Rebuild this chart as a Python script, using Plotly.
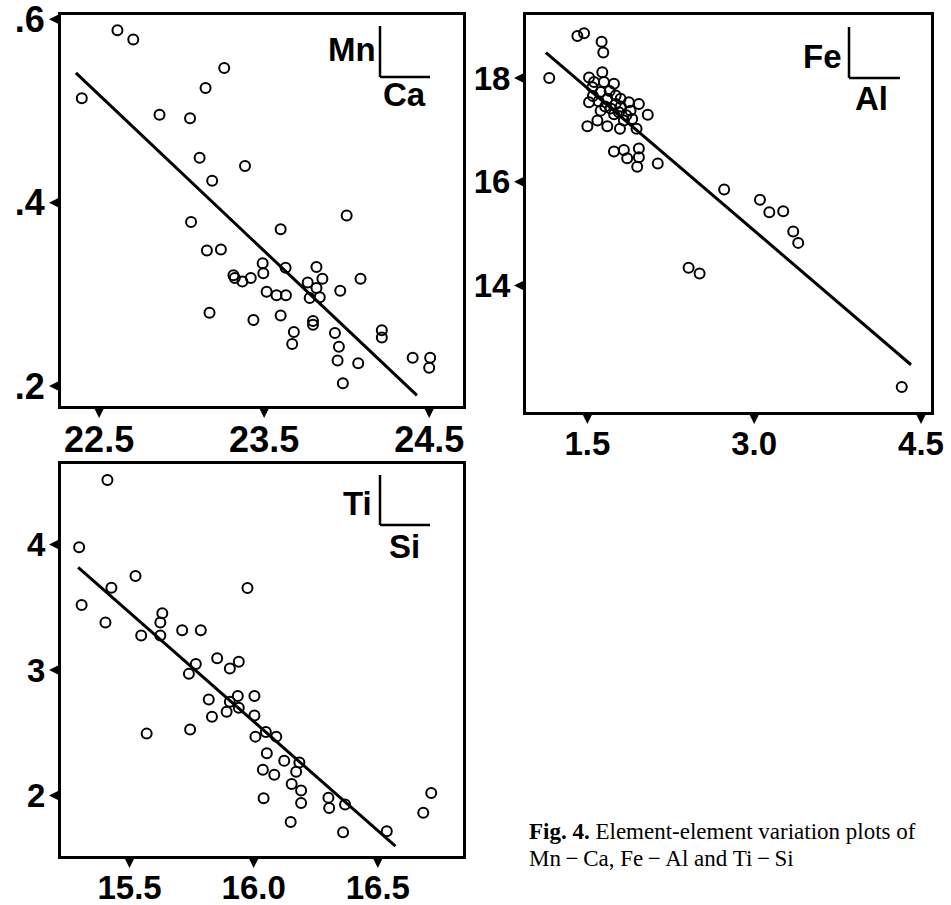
import plotly.graph_objects as go

W, H = 951, 905

# ---------------- data ----------------
# Panel 1: Mn (y) vs Ca (x)
ca_vals = [22.395, 22.611, 22.707, 23.258, 23.145, 22.866, 23.051, 23.109, 23.384, 23.185,
           24.000, 23.057, 23.600, 23.153, 23.238, 23.491, 23.495, 23.630, 23.314, 23.322,
           23.368, 23.419, 23.817, 23.853, 23.764, 23.817, 23.961, 24.084, 23.515, 23.575,
           23.632, 23.776, 23.837, 23.169, 23.435, 23.600, 23.796, 23.796, 23.680, 23.670,
           23.929, 23.953, 23.945, 24.070, 23.977, 24.213, 24.213, 24.400, 24.506, 24.500]
mn_vals = [0.514, 0.588, 0.578, 0.547, 0.525, 0.496, 0.492, 0.449, 0.440, 0.424,
           0.386, 0.379, 0.371, 0.348, 0.349, 0.334, 0.323, 0.329, 0.321, 0.318,
           0.314, 0.318, 0.330, 0.317, 0.313, 0.307, 0.304, 0.317, 0.303, 0.299,
           0.299, 0.296, 0.297, 0.280, 0.272, 0.277, 0.271, 0.267, 0.259, 0.246,
           0.258, 0.243, 0.228, 0.225, 0.203, 0.261, 0.253, 0.231, 0.231, 0.220]
mn_fit_ca = [22.359, 24.426]
mn_fit_mn = [0.5415, 0.1899]

# Panel 2: Fe (y) vs Al (x)
al_vals = [1.157, 1.410, 1.470, 1.628, 1.643, 2.133, 2.730, 3.052, 3.136, 3.261,
           3.351, 3.396, 2.410, 2.509, 4.327,
           1.634, 1.515, 1.560, 1.739, 1.515, 1.619, 1.679, 1.799, 1.873, 1.963,
           1.619, 1.709, 1.784, 1.888, 2.043, 1.500, 1.590, 1.679, 1.793, 1.903,
           1.942, 1.754, 1.828, 1.739, 1.828, 1.858, 1.963, 1.963, 1.948, 1.754,
           1.545, 1.649, 1.700, 1.800, 1.660, 1.740, 1.850, 1.550, 1.600]
fe_vals = [18.00, 18.81, 18.86, 18.70, 18.49, 16.35, 15.85, 15.65, 15.41, 15.43,
           15.04, 14.82, 14.34, 14.23, 12.04,
           18.11, 18.01, 17.92, 17.89, 17.53, 17.73, 17.60, 17.60, 17.53, 17.50,
           17.37, 17.41, 17.34, 17.37, 17.29, 17.07, 17.18, 17.07, 17.02, 17.21,
           17.02, 17.50, 17.18, 16.58, 16.61, 16.45, 16.64, 16.47, 16.29, 17.66,
           17.82, 17.92, 17.75, 17.45, 17.45, 17.30, 17.28, 17.65, 17.55]
fe_fit_al = [1.127, 4.410]
fe_fit_fe = [18.49, 12.47]

# Panel 3: Ti (y) vs Si (x)
si_vals = [15.411, 15.297, 15.307, 15.427, 15.403, 15.524, 15.547, 15.632, 15.624, 15.624,
           15.712, 15.787, 15.975, 15.767, 15.739, 15.853, 15.940, 15.904, 15.819, 15.832,
           15.904, 15.936, 16.003, 15.891, 15.940, 16.003, 15.744, 15.569, 16.049, 16.007,
           16.091, 16.053, 16.123, 16.184, 16.171, 16.037, 16.083, 16.153, 16.191, 16.191,
           16.040, 16.149, 16.301, 16.304, 16.368, 16.360, 16.536, 16.683, 16.715]
ti_vals = [4.515, 3.979, 3.519, 3.657, 3.379, 3.749, 3.276, 3.453, 3.379, 3.276,
           3.318, 3.318, 3.654, 3.049, 2.970, 3.094, 3.067, 3.012, 2.766, 2.629,
           2.748, 2.793, 2.793, 2.668, 2.700, 2.639, 2.526, 2.494, 2.507, 2.470,
           2.470, 2.338, 2.277, 2.264, 2.190, 2.206, 2.166, 2.092, 2.040, 1.942,
           1.979, 1.789, 1.984, 1.902, 1.929, 1.709, 1.717, 1.863, 2.021]
ti_fit_si = [15.293, 16.571]
ti_fit_ti = [3.818, 1.598]

# tick values / labels
p1_xticks = [22.5, 23.5, 24.5]
p1_xlabels = ["22.5", "23.5", "24.5"]
p1_yticks = [0.2, 0.4, 0.6]
p1_ylabels = [".2", ".4", ".6"]
p2_xticks = [1.5, 3.0, 4.5]
p2_xlabels = ["1.5", "3.0", "4.5"]
p2_yticks = [14, 16, 18]
p2_ylabels = ["14", "16", "18"]
p3_xticks = [15.5, 16.0, 16.5]
p3_xlabels = ["15.5", "16.0", "16.5"]
p3_yticks = [2, 3, 4]
p3_ylabels = ["2", "3", "4"]

# ---------------- layout geometry ----------------
def px(x):
    return x / W

def py(y):
    return 1 - y / H

panels = [
    dict(xa="x", ya="y", box=(61, 463, 15, 406), xr=[22.269, 24.705], yr=[0.1783, 0.6047],
         xs=ca_vals, ys=mn_vals, fx=mn_fit_ca, fy=mn_fit_mn,
         xt=p1_xticks, xl=p1_xlabels, yt=p1_yticks, yl=p1_ylabels, fs=36),
    dict(xa="x2", ya="y2", box=(526, 931, 15, 412), xr=[0.948, 4.590], yr=[11.559, 19.214],
         xs=al_vals, ys=fe_vals, fx=fe_fit_al, fy=fe_fit_fe,
         xt=p2_xticks, xl=p2_xlabels, yt=p2_yticks, yl=p2_ylabels, fs=33),
    dict(xa="x3", ya="y3", box=(61, 463, 464, 856), xr=[15.224, 16.843], yr=[1.519, 4.642],
         xs=si_vals, ys=ti_vals, fx=ti_fit_si, fy=ti_fit_ti,
         xt=p3_xticks, xl=p3_xlabels, yt=p3_yticks, yl=p3_ylabels, fs=33),
]

fig = go.Figure()
layout = dict(
    width=W, height=H, margin=dict(l=0, r=0, t=0, b=0),
    paper_bgcolor="white", plot_bgcolor="white", showlegend=False,
)
shapes = []
annotations = []

for i, p in enumerate(panels):
    l, r, t, b = p["box"]
    sfx = "" if i == 0 else str(i + 1)
    tickfont = dict(family="Liberation Sans", size=p["fs"], color="black", weight="bold")
    common = dict(showline=True, mirror=True, linewidth=3, linecolor="black",
                  showgrid=False, zeroline=False, ticks="", tickmode="array",
                  tickfont=tickfont, fixedrange=True, ticklabeloverflow="allow",
                  automargin=False)
    layout["xaxis" + sfx] = dict(common, domain=[px(l), px(r)], range=p["xr"],
                                 tickvals=p["xt"], ticktext=p["xl"],
                                 anchor=p["ya"], ticklabelstandoff=0)
    layout["yaxis" + sfx] = dict(common, domain=[py(b), py(t)], range=p["yr"],
                                 tickvals=p["yt"], ticktext=p["yl"],
                                 anchor=p["xa"], ticklabelstandoff=6)

    fig.add_trace(go.Scatter(x=p["xs"], y=p["ys"], mode="markers", xaxis=p["xa"], yaxis=p["ya"],
                             marker=dict(symbol="circle-open", size=10, color="black",
                                         line=dict(width=2, color="black")),
                             hoverinfo="skip"))
    fig.add_trace(go.Scatter(x=p["fx"], y=p["fy"], mode="lines", xaxis=p["xa"], yaxis=p["ya"],
                             line=dict(color="black", width=3), hoverinfo="skip"))

    # triangular tick marks outside the frame
    for v in p["yt"]:
        shapes.append(dict(type="path", xref="paper", yref=p["ya"],
                           xsizemode="pixel", ysizemode="pixel",
                           xanchor=px(l), yanchor=v,
                           path="M -2 -5 L -2 5 L -12 0 Z",
                           fillcolor="black", line=dict(width=0)))
    for v in p["xt"]:
        shapes.append(dict(type="path", xref=p["xa"], yref="paper",
                           xsizemode="pixel", ysizemode="pixel",
                           xanchor=v, yanchor=py(b),
                           path="M -5 -2 L 5 -2 L 0 -12 Z",
                           fillcolor="black", line=dict(width=0)))

# element-pair labels (e.g. Mn over Ca with an L-shaped divider)
labels = [
    ("Mn", "Ca", 378, 50, 380, 26, 77, 430, 404, 95),
    ("Fe", "Al", 844, 57, 849, 27, 78, 900, 871, 98),
    ("Ti", "Si", 374, 503, 380, 475, 525, 430, 404, 546),
]
lab_font = dict(family="Liberation Sans", size=33, color="black", weight="bold")
for top, bot, tx, ty, vx, vy0, vy1, hx1, bx, by in labels:
    annotations.append(dict(text=top, x=px(tx), y=py(ty), xref="paper", yref="paper",
                            xanchor="right", yanchor="middle", showarrow=False, font=lab_font))
    annotations.append(dict(text=bot, x=px(bx), y=py(by), xref="paper", yref="paper",
                            xanchor="center", yanchor="middle", showarrow=False, font=lab_font))
    shapes.append(dict(type="line", xref="paper", yref="paper",
                       x0=px(vx), x1=px(vx), y0=py(vy0), y1=py(vy1),
                       line=dict(color="black", width=2.5)))
    shapes.append(dict(type="line", xref="paper", yref="paper",
                       x0=px(vx), x1=px(hx1), y0=py(vy1), y1=py(vy1),
                       line=dict(color="black", width=2.5)))

# caption
cap_font = dict(family="Liberation Serif", size=23, color="black")
annotations.append(dict(text="<b>Fig. 4.</b> Element-element variation plots of",
                        x=px(527), y=py(831), xref="paper", yref="paper",
                        xanchor="left", yanchor="middle", showarrow=False, font=cap_font))
annotations.append(dict(text="Mn\u2009\u2212\u2009Ca, Fe\u2009\u2212\u2009Al and Ti\u2009\u2212\u2009Si",
                        x=px(527), y=py(858), xref="paper", yref="paper",
                        xanchor="left", yanchor="middle", showarrow=False, font=cap_font))

layout["shapes"] = shapes
layout["annotations"] = annotations
fig.update_layout(**layout)

fig.write_html("out.html", config={"displayModeBar": False},
               post_script="document.body.style.margin='0';document.body.style.overflow='hidden';")
